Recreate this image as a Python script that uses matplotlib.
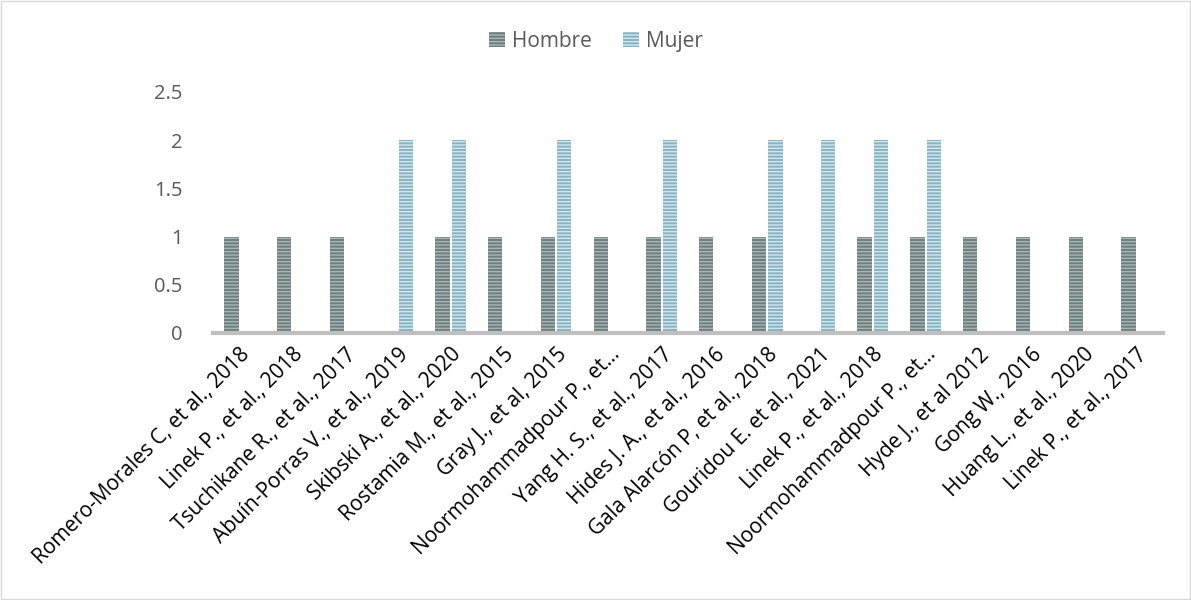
import matplotlib
matplotlib.use("Agg")
import matplotlib.pyplot as plt
import numpy as np
from matplotlib.patches import Rectangle

studies = [
    "Romero-Morales C, et al., 2018", "Linek P., et al., 2018",
    "Tsuchikane R., et al., 2017", "Abuín-Porras V., et al., 2019",
    "Skibski A., et al., 2020", "Rostamia M., et al., 2015",
    "Gray J., et al, 2015", "Noormohammadpour P., et…",
    "Yang H. S., et al., 2017", "Hides J. A., et al., 2016",
    "Gala Alarcón P, et al., 2018", "Gouridou E. et al., 2021",
    "Linek P., et al., 2018", "Noormohammadpour P., et…",
    "Hyde J., et al 2012", "Gong W., 2016",
    "Huang L., et al., 2020", "Linek P., et al., 2017",
]
hombre = [1, 1, 1, 0, 1, 1, 1, 1, 1, 1, 1, 0, 1, 1, 1, 1, 1, 1]
mujer = [0, 0, 0, 2, 2, 0, 2, 0, 2, 0, 2, 2, 2, 2, 0, 0, 0, 0]

plt.rcParams["font.family"] = ["Open Sans", "DejaVu Sans"]
plt.rcParams["hatch.linewidth"] = 1.0

fig = plt.figure(figsize=(11.91, 6.0), dpi=100)
ax = fig.add_axes([0.179, 0.445, 0.7975, 0.402])

x = np.arange(len(studies))
w = 0.27
ax.bar(x - w / 2 - 0.02, hombre, w, facecolor="#6e7f80", edgecolor="#a9b5b5",
       hatch="-----", lw=0, label="Hombre")
ax.bar(x + w / 2 + 0.02, mujer, w, facecolor="#86b4c2", edgecolor="#d3e6ec",
       hatch="-----", lw=0, label="Mujer")

ax.set_xlim(-0.5, len(studies) - 0.5)
ax.set_ylim(0, 2.5)
ax.set_yticks([0, 0.5, 1, 1.5, 2, 2.5])
ax.set_yticklabels(["0", "0.5", "1", "1.5", "2", "2.5"])
ax.set_xticks(x)
ax.set_xticklabels(studies, rotation=45, ha="right", rotation_mode="anchor")
ax.tick_params(axis="y", length=0, labelsize=14.5, labelcolor="#595959", pad=22)
ax.tick_params(axis="x", length=0, labelsize=15, labelcolor="black", pad=8)
for s in ["top", "right", "left"]:
    ax.spines[s].set_visible(False)
ax.spines["bottom"].set_color("#bfbfbf")
ax.spines["bottom"].set_linewidth(3)

fig.legend(loc="upper center", bbox_to_anchor=(0.5, 0.98), ncol=2, frameon=False,
           fontsize=15, labelcolor="#595959", handlelength=0.8, handleheight=0.8,
           columnspacing=1.5, handletextpad=0.3)

fig.patches.append(Rectangle((0.001, 0.001), 0.998, 0.998, transform=fig.transFigure,
                             fill=False, edgecolor="#d9d9d9", lw=1))

fig.savefig("out.png", dpi=100)
